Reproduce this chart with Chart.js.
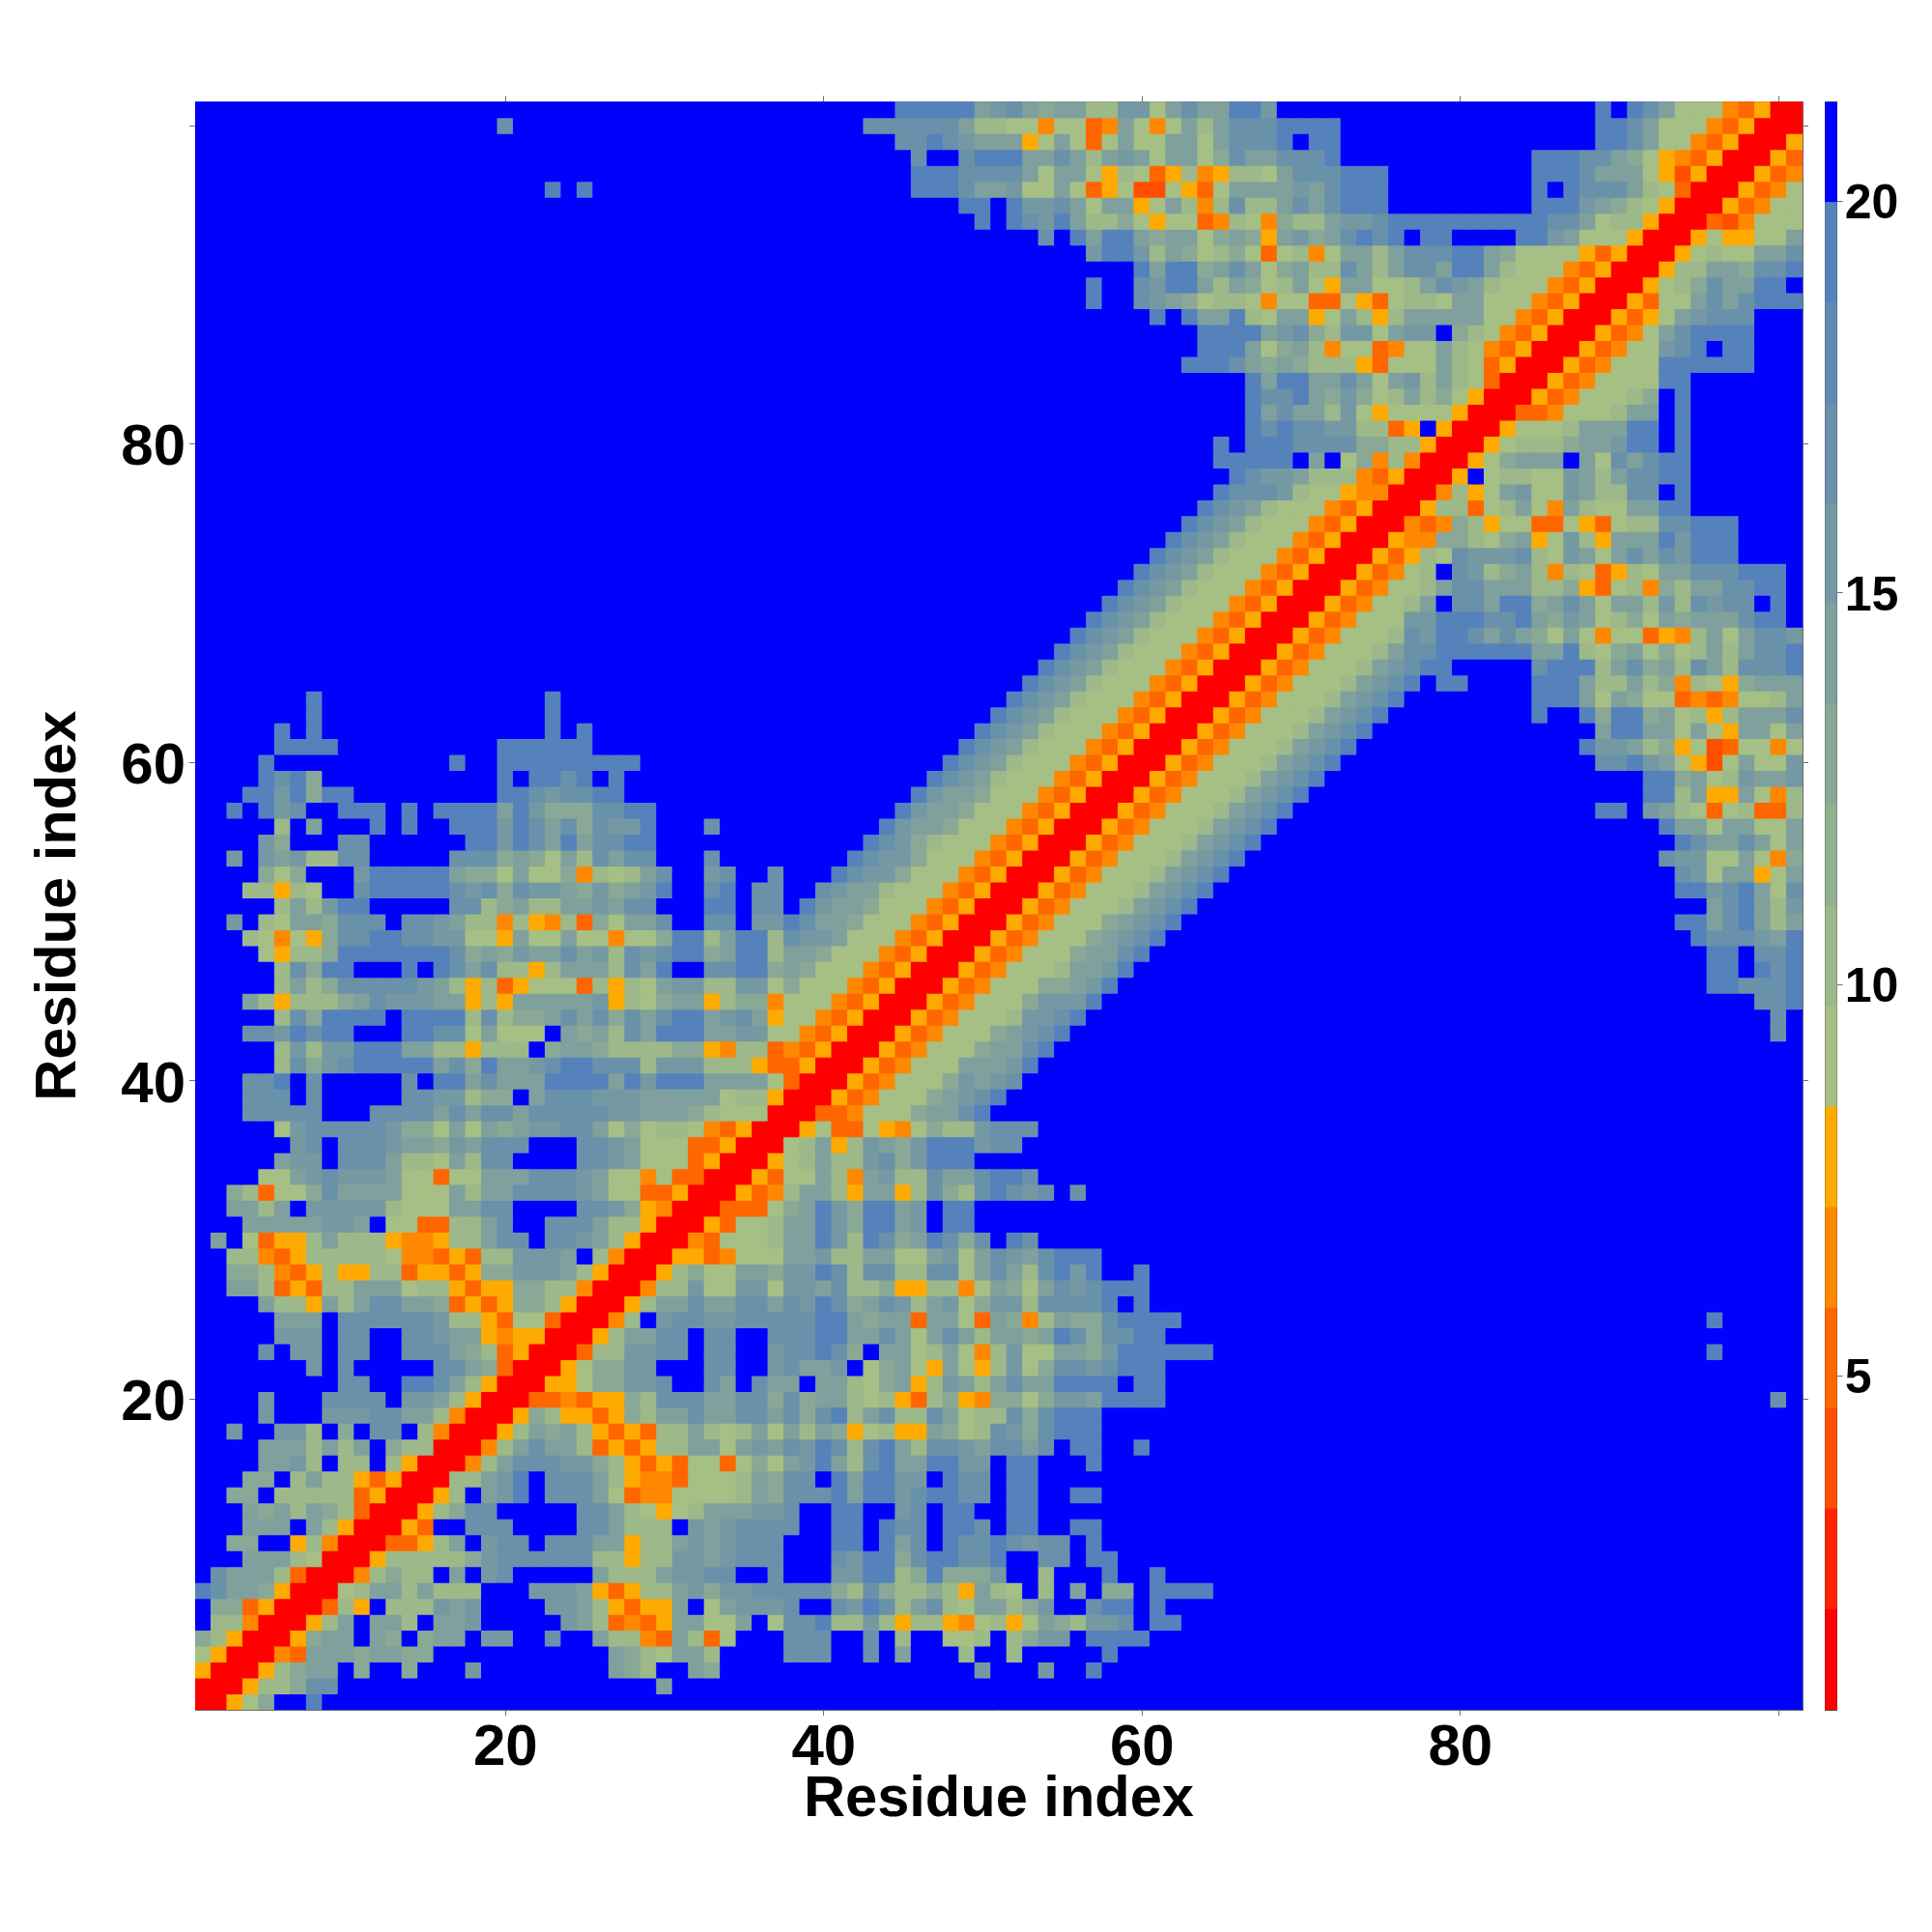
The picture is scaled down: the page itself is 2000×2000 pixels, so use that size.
<!DOCTYPE html>
<html><head><meta charset="utf-8">
<style>html,body{margin:0;padding:0;background:#fff}canvas{position:absolute;display:block}</style>
<script src="https://cdn.jsdelivr.net/npm/chart.js@4"></script>
</head><body>
<canvas id="map" style="left:0;top:0" width="2000" height="2000"></canvas>
<canvas id="bar" style="left:1850px;top:0" width="150" height="2000"></canvas>
<script>
const residueCount = 101;
const axisTicks = [20, 40, 60, 80, 100];
const axisTitle = "Residue index";
const barTicks = [5, 10, 15, 20];
const barMin = 0.74, barStep = 1.283;
const bandColors = ["#ff0000","#ff2400","#ff4e00","#ff6600","#ff8800","#ffaa00",
  "#a5bf85","#9db889","#93b08f","#8aa896","#7fa09c","#7599a3","#6a91aa","#608ab2","#5582bb","#0000ff"];
const bandCodes = "0123457869abcedf";
// one row per residue y, columns x=1..y, right aligned on the diagonal; (n) = n cells above 21 A
const rows = [
"0","00","500","7500","98500","f88400","f993500","dcaa9500","fcaaa8300","fffaaa8700",
"ff99ff58400","fffaaafa8500","fffa9a8a98300","ff99f888883500","fff99f8a8853500","ffffaab8f88f8500",
"ffffaaa8a8af98800","ffbffbb8f9fccf8400","ffffbfffbbbccaa8400","ffffbfffccccfbba8500",
"fffffffffccffddca8500","fffffffbfcfffffcca9300","ffffcfbbfccffccca983500","fffffbbbfccffccbaa545500",
"fffffaaafccccccb885377300","ffffa885a8accaa93535998500","ffaa835388aaa78853559988400",
"ff998435855883553599bbba8500","ff884358888874435388bbbaf8400","faf73558a888544588accfccba8500",
"fffaaaaabbaf773388acffccca88500","ffaa8afbbbbb8777aaccffffccb95400","ff983779caaaa777a8aaccccba7733500",
"ffff77abcbbba77377aaacccba77473300","fffffabbfccca887a8ccffffccba7773500",
"ffffffbcfcccbaa9bacccfffccba77733500","fffff7bcccccb997a7a9abbcca79788743500",
"fffcccccfffccccacaccacccccbbaaa9877700","fffcccfcfffffccbb899facccbbbaaaaa788500",
"fffccdfcfffffcfddacaaaddddadbdddaaaa7300","fffff8c9bcdddddac9daabcddccc8bbb888533500",
"fffff8b8bbdddaa885888f9aa98888995488343500","fffccbdcddfffddcc7a777fa9a8cadddaabb7743500",
"fffff8c9ddddfdddd8c899acac9cacddabca57743500","fffa858889acbbbaa585aaaaab5879aa5899477743500",
"fffff8a89cccccba8583577738587abb88bb7977743500","fffff8c9ddfffdfdcac8858aaa8cadffccdd9a977743500",
"ffff75889dddddddc9a9baacab8cbcdd9add8aa977743500","fff874759ccddccbb775a77a774779dd8add8cbba77743500",
"ffbf87aa9cccfccba8848548397aacffccfbbdcaa977743500","fffff8a8bddfffffcc89a88aabaccfffddfccfdbaa977743500",
"fff88587ffcdddddcbc9cbba9b9abdffcdfccffcbaa877743500","ffff979fffbddddda997a7794878acffbcffcfffdcbb977743500",
"ffbfbab88ccfffffccc9a97a8caccfffc(8)dcbb977743500",
"ffffb9fffccffffffddbdcadaccdd(13)dcb9877743500",
"fffff8fafffdfdffdddbdcac9cbbdfffc(10)dbaa977743500",
"ffdfdbcffdddfdfddddadb999ccdd(15)dbaa977743500",
"fffddbd9dd(9)ddcbccdd(18)dbaa977743500",
"ffffdcd9(11)dfddcdfd(19)dcba877743500",
"ffffd(11)dffddddddddd(19)dcba877743500",
"fffffdddd(10)dddddd(23)dcba877743500",
"fffffdfd(14)dfd(24)dcba877743500",
"fffffffd(14)d(27)dcba877743500",
"fffffffd(14)d(28)dcba877743500",
"dcba877743500","dcba877743500","dcba877743500","dcba877743500","dcba877743500","dcba877743500",
"dcba877743500","dcba877743500","dcba877743500","dcba877743500","dcba877743500","dcba877743500",
"dcccb87754400","dcbba88843500","dddddfaf7948400","dfdddcccc9988500","dcdccbb8835f500",
"dacaa8b757777500","dccda9b978a897500","daddaaca7ab8a87300","dddca9a988853777a873500",
"ddda79a84773477a8743500","ddddabc98bb7abbf98743500","dfdaad87aa57a858aaaaa7743500",
"dffcba97887477337537887aa77743500","dffcbdda8a978a75aa778acba877743500","dadd9aca79a88ca8accadda877743500",
"bddb8a9789737847aa8acccdda9777753500","cfdadda9aa79a95ab9acdcdfddffffddba777500",
"dfdcbda889757734874988abbcddddddddddcca788500",
"ddfdbbca7aa57a848c88acacddd(9)dddba987500",
"(22)dfd(20)dddcaab77a7357227537aaaabacddd(9)dfdccca87300",
"(45)dddcccca7aa758735845887acccddd(9)dddcaaa752500",
"(45)cffcdddaaca8aba7aa79caacccd(12)dddcca97543500",
"(44)ccdcbaaa57a737a77aa7acccdfdd(16)ddca7743500",
"(19)c(22)cccccca887747734a747a8acccdddd(16)ddca77743500",
"(44)dddddabca9aa88bb7acaaddb(20)dfdca77743500"
];

const bandOf = rows.map((raw, i) => raw
  .replace(/\((\d+)\)/g, (m, n) => "f".repeat(+n))
  .padStart(i + 1, "f")
  .split("").map(ch => bandCodes.indexOf(ch)));
const cells = [];
for (let y = 1; y <= residueCount; y++) {
  for (let x = 1; x <= y; x++) {
    const v = barMin + barStep * (bandOf[y - 1][x - 1] + 0.5);
    cells.push({x, y, v});
    if (x !== y) cells.push({x: y, y: x, v});
  }
}
const colorOf = v => bandColors[Math.min(bandColors.length - 1, Math.floor((v - barMin) / barStep))];

const FAMILY = "'Liberation Sans', Arimo, Helvetica, Arial, sans-serif";
const FRAME = "#6e6e6e";
const fixedSize = (prop, size) => s => { s[prop] = size; };
const setTicks = list => s => { s.ticks = list.map(v => ({value: v})); };

const axisBase = (position, size, labelled) => ({
  type: "linear", min: 0.5, max: residueCount + 0.5, position,
  afterBuildTicks: setTicks(axisTicks),
  afterFit: fixedSize(position === "left" || position === "right" ? "width" : "height", size),
  grid: {drawOnChartArea: false, drawTicks: true, tickLength: 6, tickColor: FRAME, tickWidth: 1},
  border: {display: true, color: FRAME, width: 1},
  ticks: {
    display: labelled, autoSkip: false, maxRotation: 0, minRotation: 0, padding: 4, color: "#000",
    font: {family: FAMILY, size: 60, weight: "bold", lineHeight: 1},
    callback: v => v === 100 ? "" : String(v)
  }
});

const yAxis = axisBase("left", 202, true);
yAxis.ticks.font = {family: FAMILY, size: 60, weight: "bold", lineHeight: "10px"};
yAxis.ticks.callback = v => v === 100 ? "" : ["", String(v)];

new Chart(document.getElementById("map"), {
  type: "scatter",
  data: {datasets: [{
    data: cells, xAxisID: "x", yAxisID: "y",
    pointStyle: "rect", pointRadius: 12.4, pointHoverRadius: 12.4, borderWidth: 0,
    backgroundColor: c => colorOf(c.raw ? c.raw.v : 21)
  }]},
  options: {
    responsive: false, animation: false, events: [], devicePixelRatio: 1,
    layout: {padding: 0},
    plugins: {legend: {display: false}, tooltip: {enabled: false}},
    scales: {
      x: Object.assign(axisBase("bottom", 230, true), {
        title: {display: true, text: axisTitle, color: "#000", padding: {top: 0, bottom: 106.5},
                font: {family: FAMILY, size: 59.6, weight: "bold", lineHeight: 1}}
      }),
      y: Object.assign(yAxis, {
        title: {display: true, text: axisTitle, color: "#000", padding: {top: 31.5, bottom: 0},
                font: {family: FAMILY, size: 59.6, weight: "bold", lineHeight: 1}}
      }),
      x2: Object.assign(axisBase("top", 105.3, false), {axis: "x"}),
      y2: Object.assign(axisBase("right", 134, false), {axis: "y"})
    }
  }
});

const barFrame = "#46504e";
new Chart(document.getElementById("bar"), {
  type: "bar",
  data: {
    labels: [""],
    datasets: bandColors.map((color, i) => ({
      data: [[barMin + barStep * i, barMin + barStep * (i + 1)]],
      backgroundColor: color, borderWidth: 0,
      barPercentage: 1, categoryPercentage: 1, grouped: false
    }))
  },
  options: {
    responsive: false, animation: false, events: [], devicePixelRatio: 1,
    layout: {padding: 0},
    plugins: {legend: {display: false}, tooltip: {enabled: false}},
    scales: {
      x: {type: "category", position: "bottom", afterFit: fixedSize("height", 230),
          grid: {display: false}, border: {display: true, color: barFrame}, ticks: {display: false}},
      xt: {axis: "x", type: "category", position: "top", afterFit: fixedSize("height", 105.5),
          grid: {display: false}, border: {display: true, color: barFrame}, ticks: {display: false}},
      yl: {axis: "y", type: "linear", position: "left", min: barMin, max: barMin + barStep * bandColors.length,
          afterFit: fixedSize("width", 39.3),
          grid: {display: false}, border: {display: true, color: barFrame}, ticks: {display: false}},
      y: {type: "linear", position: "right", min: barMin, max: barMin + barStep * bandColors.length,
          afterBuildTicks: setTicks(barTicks), afterFit: fixedSize("width", 98.3),
          grid: {drawOnChartArea: false, drawTicks: true, tickLength: 6, tickColor: FRAME},
          border: {display: true, color: barFrame},
          ticks: {color: "#000", padding: 2, autoSkip: false, callback: v => ["", String(v)],
                  font: {family: FAMILY, size: 50, weight: "bold", lineHeight: "8px"}}}
    }
  }
});
</script>
</body></html>
